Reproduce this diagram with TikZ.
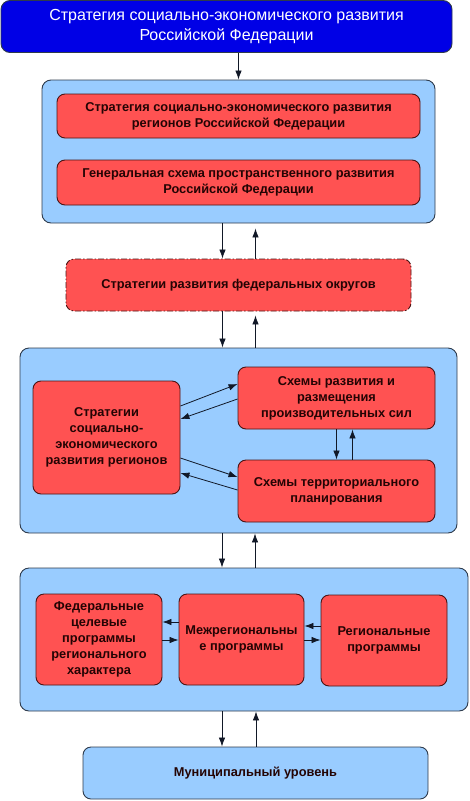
\documentclass[tikz,border=0pt]{standalone}
\usepackage{fontspec}
\setmainfont{Liberation Sans}
\usetikzlibrary{arrows.meta}
\definecolor{topblue}{HTML}{0000E6}
\definecolor{grpfill}{HTML}{99CCFF}
\definecolor{grpline}{HTML}{2E3B4C}
\definecolor{redfill}{HTML}{FF5252}
\definecolor{redline}{HTML}{4A1414}
\definecolor{redtext}{HTML}{240404}
\definecolor{arrline}{HTML}{111827}

\begin{document}
\begin{tikzpicture}[x=1pt,y=-1pt,
  grp/.style={draw=grpline,fill=grpfill,rounded corners=9pt,line width=0.9pt},
  redbox/.style={draw=redline,fill=redfill,rounded corners=8pt,line width=0.9pt,align=center,inner sep=0pt,
    text=redtext,font=\fontsize{12.8}{16}\selectfont\bfseries},
  arr/.style={draw=arrline,line width=0.8pt,-{Latex[length=9pt,width=6.5pt]}}]
\useasboundingbox (0,0) rectangle (469,801);

% top level
\node[draw=grpline,fill=topblue,rounded corners=9pt,line width=0.9pt,minimum width=451pt,minimum height=52pt,
  text=white,align=center,font=\fontsize{16}{20}\selectfont] (top) at (226.5,26.5)
  {Стратегия социально-экономического развития\\Российской Федерации};

% first group
\node[grp,minimum width=393pt,minimum height=143pt] (g1) at (238.5,151.5) {};
\node[redbox,minimum width=363pt,minimum height=44pt] (r1) at (238.5,116)
  {Стратегия социально-экономического развития\\регионов Российской Федерации};
\node[redbox,minimum width=363pt,minimum height=45pt] (r2) at (238.5,182.5)
  {Генеральная схема пространственного развития\\Российской Федерации};

% federal districts
\node[redbox,dash pattern=on 6pt off 2pt on 1.5pt off 2pt,minimum width=345pt,minimum height=52pt] (fed) at (238.5,285)
  {Стратегии развития федеральных округов};

% second group
\node[grp,minimum width=437pt,minimum height=185pt] (g2) at (238.5,440.5) {};
\node[redbox,minimum width=147pt,minimum height=113pt] (reg) at (106.5,437.5)
  {Стратегии\\социально-\\экономического\\развития регионов};
\node[redbox,minimum width=197pt,minimum height=62pt] (sch1) at (336.5,398)
  {Схемы развития и\\размещения\\производительных сил};
\node[redbox,minimum width=197pt,minimum height=62pt] (sch2) at (336.5,491)
  {Схемы территориального\\планирования};

% third group
\node[grp,minimum width=448pt,minimum height=143pt] (g3) at (244,639.5) {};
\node[redbox,minimum width=126pt,minimum height=91pt] (pa) at (99,639.5)
  {Федеральные\\целевые\\программы\\регионального\\характера};
\node[redbox,minimum width=125pt,minimum height=91pt] (pb) at (241.5,639.5)
  {Межрегиональны\\е программы};
\node[redbox,minimum width=126pt,minimum height=91pt] (pc) at (384,640.5)
  {Региональные\\программы};

% municipal level
\node[grp,rounded corners=8pt,minimum width=345pt,minimum height=52pt,text=redtext,
  font=\fontsize{12.8}{16}\selectfont\bfseries] (mun) at (255.5,773) {Муниципальный уровень};

% arrows
\draw[arr] (top.south -| g1.north) -- (g1.north);
\draw[arr] ([xshift=-16pt]g1.south) -- ([xshift=-16pt]fed.north);
\draw[arr] ([xshift=17pt]fed.north) -- ([xshift=17pt,yshift=-5pt]g1.south);
\draw[arr] ([xshift=-16pt]fed.south) -- ([xshift=-16pt]fed.south |- g2.north);
\draw[arr] ([xshift=17pt]fed.south |- g2.north) -- ([xshift=17pt,yshift=-4pt]fed.south);
\draw[arr] (reg.east) ++(0,-31.5) -- ([yshift=14pt]sch1.west);
\draw[arr] ([yshift=-1pt]sch1.west) -- ([yshift=18.5pt]reg.east);
\draw[arr] ([yshift=-20.5pt]reg.east) -- ([yshift=14pt]sch2.west);
\draw[arr] ([yshift=1pt]sch2.west) -- ([yshift=-35.5pt]reg.east);
\draw[arr] (sch1.south) -- (sch2.north);
\draw[arr] ([xshift=16pt]sch2.north) -- ([xshift=16pt]sch1.south);
\draw[arr] ([xshift=-16.5pt]g2.south) -- ([xshift=-16.5pt]g2.south |- g3.north);
\draw[arr] ([xshift=16.5pt]g2.south |- g3.north) -- ([xshift=16.5pt]g2.south);
\draw[arr] ([yshift=17.5pt]pb.west) -- ([yshift=17.5pt]pb.west -| pa.east);
\draw[arr] ([yshift=-0.5pt]pa.east) -- ([yshift=-0.5pt]pa.east -| pb.west);
\draw[arr] ([yshift=14.5pt]pc.west) -- ([yshift=14.5pt]pc.west -| pb.east);
\draw[arr] ([yshift=-0.5pt]pb.east) -- ([yshift=-0.5pt]pb.east -| pc.west);
\draw[arr] ([xshift=-22pt]g3.south) -- ([xshift=-22pt]g3.south |- mun.north);
\draw[arr] ([xshift=12pt]g3.south |- mun.north) -- ([xshift=12pt]g3.south);
\end{tikzpicture}
\end{document}
